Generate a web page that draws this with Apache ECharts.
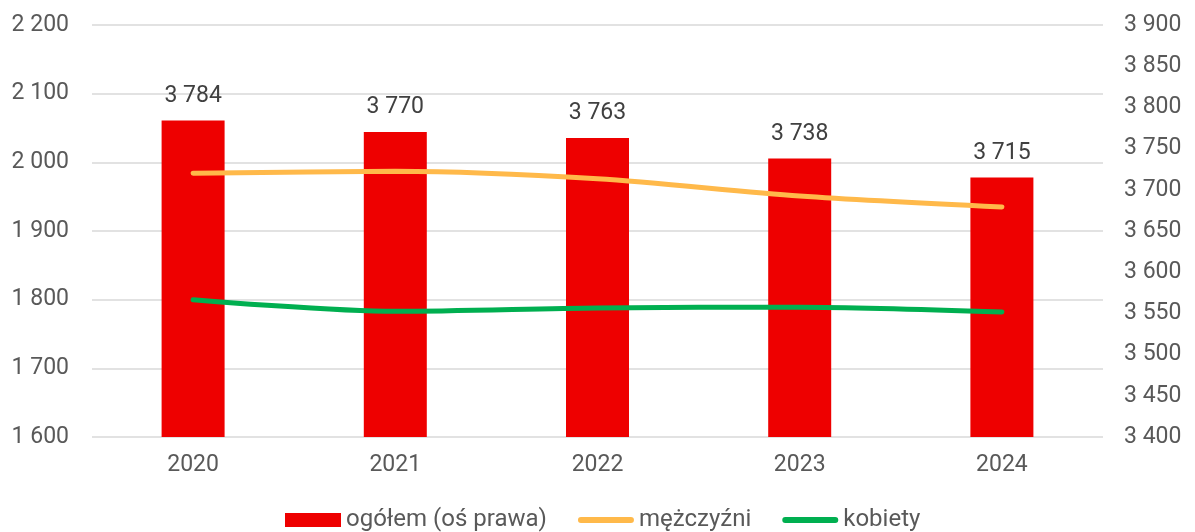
<!DOCTYPE html>
<html>
<head>
<meta charset="utf-8">
<script src="https://cdn.jsdelivr.net/npm/echarts@6/dist/echarts.min.js"></script>
<style>
  html, body { margin: 0; padding: 0; background: #fff; }
  #main { width: 1195px; height: 532px; }
</style>
</head>
<body>
<div id="main"></div>
<script>
const years = ['2020', '2021', '2022', '2023', '2024'];
const ogolem = [3784, 3770, 3763, 3738, 3715];
const mezczyzni = [1984, 1987, 1976, 1951, 1935];
const kobiety = [1800, 1783, 1788, 1789, 1782];

const fmt = v => String(v).replace(/\B(?=(\d{3})+(?!\d))/g, ' ');

const chart = echarts.init(document.getElementById('main'));
const textColor = '#595959';
const fs = 23;

// legend icons: bar 52x13, line 56x6 with round ends
const barIcon = 'path://M0,0L52,0L52,13L0,13Z';
const lineIcon = 'path://M3,0L53,0A3,3 0 0 1 53,6L3,6A3,3 0 0 1 3,0Z';

chart.setOption({
  animation: false,
  textStyle: {fontFamily: 'Roboto'},
  grid: {left: 92, right: 92, top: 25, bottom: 95},
  legend: {
    top: 503,
    left: 280,
    itemGap: 31,
    itemWidth: 56,
    itemHeight: 14,
    symbolKeepAspect: true,
    textStyle: {fontSize: 24, color: textColor, fontFamily: 'Roboto'},
    data: [
      {name: 'ogółem (oś prawa)', icon: barIcon},
      {name: 'mężczyźni', icon: lineIcon},
      {name: 'kobiety', icon: lineIcon}
    ]
  },
  xAxis: {
    type: 'category',
    data: years,
    axisLine: {show: false},
    axisTick: {show: false},
    axisLabel: {fontSize: fs, color: textColor, margin: 17}
  },
  yAxis: [
    {
      type: 'value',
      min: 1600, max: 2200, interval: 100,
      axisLabel: {fontSize: fs, color: textColor, margin: 23, formatter: fmt},
      splitLine: {lineStyle: {color: '#d9d9d9', width: 1.5}}
    },
    {
      type: 'value',
      min: 3400, max: 3900, interval: 50,
      position: 'right',
      axisLabel: {fontSize: fs, color: textColor, margin: 21, formatter: fmt},
      splitLine: {show: false}
    }
  ],
  series: [
    {
      name: 'ogółem (oś prawa)',
      type: 'bar',
      yAxisIndex: 1,
      data: ogolem,
      barWidth: 63,
      itemStyle: {color: '#ee0000'},
      label: {
        show: true,
        position: 'top',
        distance: 13,
        fontSize: fs,
        color: '#404040',
        formatter: p => fmt(p.value)
      },
      z: 1
    },
    {
      name: 'mężczyźni',
      type: 'line',
      yAxisIndex: 0,
      data: mezczyzni,
      smooth: 0.3,
      showSymbol: false,
      symbol: 'none',
      itemStyle: {color: '#ffb94a'},
      lineStyle: {color: '#ffb94a', width: 5, cap: 'round'},
      z: 3
    },
    {
      name: 'kobiety',
      type: 'line',
      yAxisIndex: 0,
      data: kobiety,
      smooth: 0.3,
      showSymbol: false,
      symbol: 'none',
      itemStyle: {color: '#00af50'},
      lineStyle: {color: '#00af50', width: 5, cap: 'round'},
      z: 3
    }
  ]
});
</script>
</body>
</html>
